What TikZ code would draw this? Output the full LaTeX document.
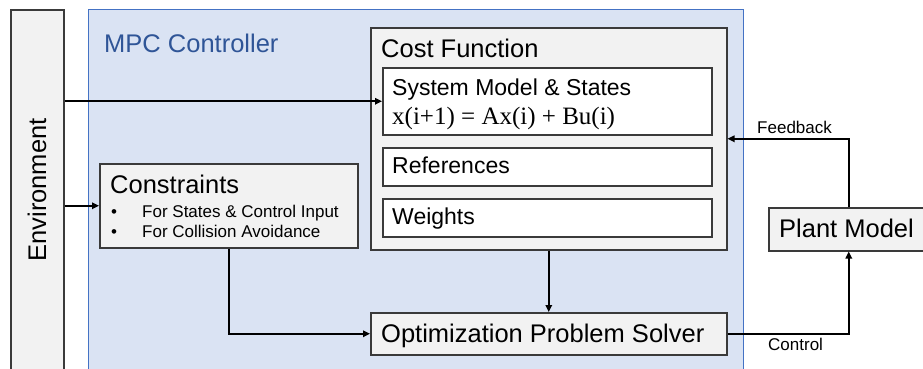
\documentclass[tikz,border=0pt]{standalone}
\usepackage{fontspec}
\setmainfont{Liberation Sans}
\newfontfamily\eqfont{Liberation Serif}
\usetikzlibrary{arrows.meta}
\definecolor{boxgray}{HTML}{F2F2F2}
\definecolor{edgegray}{HTML}{3A3A3A}
\definecolor{mpcfill}{HTML}{DAE3F3}
\definecolor{mpcedge}{HTML}{4472C4}
\definecolor{mpctext}{HTML}{2F5597}

\begin{document}
\begin{tikzpicture}[x=1pt, y=-1pt,
    box/.style={draw=edgegray, line width=1.5pt, fill=boxgray, anchor=north west, inner sep=0pt},
    inbox/.style={box, fill=white},
    txt/.style={anchor=base west, inner sep=0pt},
    big/.style={font=\fontsize{25.5}{30}\selectfont},
    mid/.style={font=\fontsize{23}{27}\selectfont},
    small/.style={font=\fontsize{17}{20}\selectfont},
    link/.style={line width=1.6pt, -{Triangle[length=7pt, width=6.5pt]}}]
    \useasboundingbox (0,0) rectangle (923,368);
    \clip (0,0) rectangle (923,368);

    % outer frames
    \node[box, minimum width=53, minimum height=380] (env) at (10,9) {};
    \node[big, rotate=90] (envlbl) at (37,190) {Environment};
    \node[box, draw=mpcedge, fill=mpcfill, line width=1pt, minimum width=655, minimum height=380] (mpc) at (88,9) {};
    \node[big, txt, text=mpctext] (mpclbl) at (104,52) {MPC Controller};

    % cost function
    \node[box, minimum width=356, minimum height=222] (cost) at (370,27) {};
    \node[big, txt] (costlbl) at (381,57) {Cost Function};
    \node[inbox, minimum width=329, minimum height=67] (sys) at (382,67) {};
    \node[mid, txt] (syslbl) at (392,95) {System Model \& States};
    \node[txt, font=\eqfont\fontsize{25}{29}\selectfont] (eq) at (392,124) {x(i+1) = Ax(i) + Bu(i)};
    \node[inbox, minimum width=329, minimum height=38] (refs) at (382,147) {};
    \node[mid, txt] (refslbl) at (392,173) {References};
    \node[inbox, minimum width=329, minimum height=38] (wts) at (382,198) {};
    \node[mid, txt] (wtslbl) at (392,224) {Weights};

    % solver
    \node[box, minimum width=356, minimum height=42] (opt) at (370,312) {};
    \node[big, txt] (optlbl) at (381,342) {Optimization Problem Solver};

    % constraints
    \node[box, minimum width=258, minimum height=84] (cons) at (99,163) {};
    \node[big, txt] (conslbl) at (110,193) {Constraints};
    \foreach \y/\t [count=\i] in {217/For States \& Control Input, 237/For Collision Avoidance} {
        \node[small, anchor=base, inner sep=0pt] (dot\i) at (114,\y) {•};
        \node[small, txt] (item\i) at (142,\y) {\t};
    }

    % plant
    \node[box, minimum width=160, minimum height=43] (plant) at (768,207) {};
    \node[big, txt] (plantlbl) at (779,237) {Plant Model};

    % connectors
    \draw[link] (env.east |- sys.west) -- (sys.west);
    \draw[link] (env.east |- cons.west) -- (cons.west);
    \draw[link] (cons.south) |- (opt.west);
    \draw[link] (cost.south) -- (opt.north);
    \draw[link] (opt.east) -| (plant.south);
    \draw[link] (plant.north) |- (cost.east);
    \node[small, txt] (ctrl) at (768,350) {Control};
    \node[small, txt] (fb) at (757,133) {Feedback};
\end{tikzpicture}
\end{document}
